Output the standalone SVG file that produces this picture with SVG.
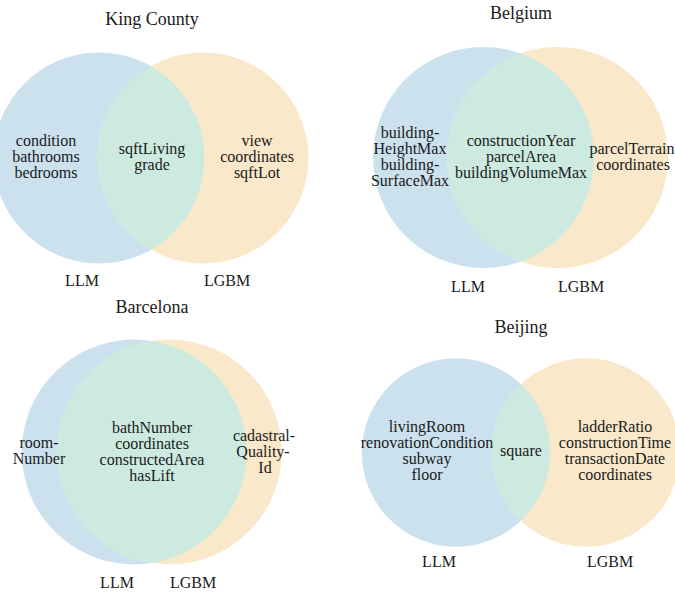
<svg xmlns="http://www.w3.org/2000/svg" width="675" height="592" viewBox="0 0 675 592">
<style>
text{font-family:"Liberation Serif","Times New Roman",serif;font-size:16px;fill:#1a1a1a;text-anchor:middle}
.title{font-size:18px}
.llm{fill:#cce1ee}
.lgbm{fill:#f9e8ca}
.both{fill:#cdeae1}
</style>
<defs>
<clipPath id="kcA"><circle cx="99" cy="158" r="105.5"/></clipPath>
<clipPath id="beA"><circle cx="483.5" cy="157.5" r="110.5"/></clipPath>
<clipPath id="baA"><circle cx="134.2" cy="452" r="112.5"/></clipPath>
<clipPath id="bjA"><circle cx="456" cy="452.5" r="94.2"/></clipPath>
</defs>
<rect width="675" height="592" fill="#ffffff"/>

<g id="king-county">
<text class="title" x="152" y="25">King County</text>
<g id="kc-llm"><circle class="llm" cx="99" cy="158" r="105.5"/></g>
<g id="kc-lgbm"><circle class="lgbm" cx="203" cy="158" r="105.5"/></g>
<g id="kc-both"><circle class="both" cx="203" cy="158" r="105.5" clip-path="url(#kcA)"/></g>
<text x="46" y="146">condition</text>
<text x="46" y="162">bathrooms</text>
<text x="46" y="178">bedrooms</text>
<text x="152" y="154">sqftLiving</text>
<text x="152" y="170">grade</text>
<text x="257" y="146">view</text>
<text x="257" y="162">coordinates</text>
<text x="257" y="178">sqftLot</text>
<text x="82" y="286">LLM</text>
<text x="227" y="286">LGBM</text>
</g>

<g id="belgium">
<text class="title" x="521" y="19">Belgium</text>
<g id="be-llm"><circle class="llm" cx="483.5" cy="157.5" r="110.5"/></g>
<g id="be-lgbm"><circle class="lgbm" cx="557.5" cy="157.5" r="110.5"/></g>
<g id="be-both"><circle class="both" cx="557.5" cy="157.5" r="110.5" clip-path="url(#beA)"/></g>
<text x="410" y="138">building-</text>
<text x="410" y="154">HeightMax</text>
<text x="410" y="170">building-</text>
<text x="410" y="186">SurfaceMax</text>
<text x="521" y="146">constructionYear</text>
<text x="521" y="162">parcelArea</text>
<text x="521" y="178">buildingVolumeMax</text>
<text x="632" y="154">parcelTerrain</text>
<text x="633" y="170">coordinates</text>
<text x="468" y="292">LLM</text>
<text x="581" y="292">LGBM</text>
</g>

<g id="barcelona">
<text class="title" x="152" y="313">Barcelona</text>
<g id="ba-llm"><circle class="llm" cx="134.2" cy="452" r="112.5"/></g>
<g id="ba-lgbm"><circle class="lgbm" cx="169.2" cy="452" r="112.5"/></g>
<g id="ba-both"><circle class="both" cx="169.2" cy="452" r="112.5" clip-path="url(#baA)"/></g>
<text x="39" y="448">room-</text>
<text x="39" y="464">Number</text>
<text x="152" y="433">bathNumber</text>
<text x="152" y="449">coordinates</text>
<text x="152" y="465">constructedArea</text>
<text x="152" y="481">hasLift</text>
<text x="264" y="441">cadastral-</text>
<text x="263" y="457">Quality-</text>
<text x="265" y="473">Id</text>
<text x="117" y="588">LLM</text>
<text x="193" y="588">LGBM</text>
</g>

<g id="beijing">
<text class="title" x="521" y="333">Beijing</text>
<g id="bj-llm"><circle class="llm" cx="456" cy="452.5" r="94.2"/></g>
<g id="bj-lgbm"><circle class="lgbm" cx="586" cy="452.5" r="94.2"/></g>
<g id="bj-both"><circle class="both" cx="586" cy="452.5" r="94.2" clip-path="url(#bjA)"/></g>
<text x="427" y="432">livingRoom</text>
<text x="427" y="448">renovationCondition</text>
<text x="427" y="464">subway</text>
<text x="427" y="480">floor</text>
<text x="521" y="456">square</text>
<text x="615" y="432">ladderRatio</text>
<text x="615" y="448">constructionTime</text>
<text x="615" y="464">transactionDate</text>
<text x="615" y="480">coordinates</text>
<text x="439" y="567">LLM</text>
<text x="610" y="567">LGBM</text>
</g>
</svg>
